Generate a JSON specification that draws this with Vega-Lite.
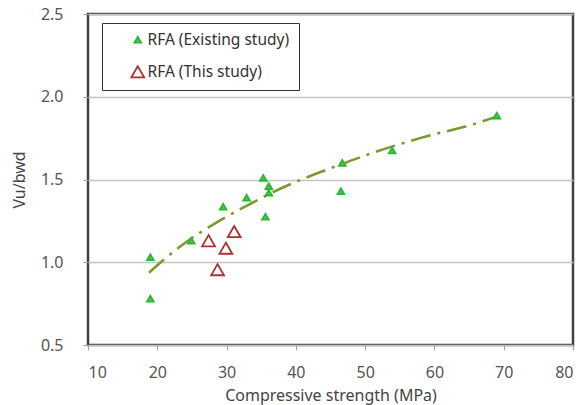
{
  "$schema": "https://vega.github.io/schema/vega-lite/v6.json",
  "width": 485,
  "height": 331,
  "autosize": {"type": "none"},
  "padding": {"left": 88, "top": 14, "right": 9, "bottom": 60},
  "background": "white",
  "datasets": {
    "pts": [
      {"fc": 19.0, "v": 1.03, "series": "RFA (Existing study)"},
      {"fc": 19.0, "v": 0.78, "series": "RFA (Existing study)"},
      {"fc": 24.9, "v": 1.13, "series": "RFA (Existing study)"},
      {"fc": 29.5, "v": 1.335, "series": "RFA (Existing study)"},
      {"fc": 32.9, "v": 1.39, "series": "RFA (Existing study)"},
      {"fc": 35.3, "v": 1.51, "series": "RFA (Existing study)"},
      {"fc": 36.1, "v": 1.46, "series": "RFA (Existing study)"},
      {"fc": 36.1, "v": 1.42, "series": "RFA (Existing study)"},
      {"fc": 35.6, "v": 1.275, "series": "RFA (Existing study)"},
      {"fc": 46.7, "v": 1.60, "series": "RFA (Existing study)"},
      {"fc": 46.5, "v": 1.43, "series": "RFA (Existing study)"},
      {"fc": 53.9, "v": 1.675, "series": "RFA (Existing study)"},
      {"fc": 69.0, "v": 1.885, "series": "RFA (Existing study)"},
      {"fc": 27.4, "v": 1.13, "series": "RFA (This study)"},
      {"fc": 31.1, "v": 1.185, "series": "RFA (This study)"},
      {"fc": 29.9, "v": 1.085, "series": "RFA (This study)"},
      {"fc": 28.7, "v": 0.955, "series": "RFA (This study)"}
    ],
    "fit": [
      {"fc": 18.8, "v": 0.937},
      {"fc": 23.3, "v": 1.095},
      {"fc": 30.0, "v": 1.275},
      {"fc": 33.4, "v": 1.352},
      {"fc": 36.3, "v": 1.415},
      {"fc": 40.6, "v": 1.496},
      {"fc": 45.4, "v": 1.574},
      {"fc": 50.0, "v": 1.645},
      {"fc": 57.9, "v": 1.750},
      {"fc": 65.6, "v": 1.834},
      {"fc": 69.0, "v": 1.880}
    ]
  },
  "config": {
    "font": "Noto Sans",
    "view": {"stroke": "#404040", "strokeWidth": 2.5},
    "axis": {
      "labelFont": "Noto Sans",
      "titleFont": "Noto Sans",
      "labelFontSize": 16,
      "titleFontSize": 16,
      "labelColor": "#555555",
      "titleColor": "#444444",
      "titleFontWeight": "normal",
      "domain": false,
      "tickColor": "#a0a0a0",
      "tickSize": 5
    }
  },
  "layer": [
    {
      "data": {"name": "fit"},
      "mark": {"type": "line", "color": "#7b9a2e", "strokeWidth": 2.6, "strokeDash": [20, 7, 3, 7], "interpolate": "monotone"},
      "encoding": {
        "x": {"field": "fc", "type": "quantitative"},
        "y": {"field": "v", "type": "quantitative"}
      }
    },
    {
      "data": {"name": "pts"},
      "mark": {"type": "point", "shape": "triangle-up", "strokeWidth": 1.8, "opacity": 1},
      "encoding": {
        "x": {
          "field": "fc", "type": "quantitative",
          "scale": {"domain": [10, 80], "nice": false},
          "axis": {"values": [10, 20, 30, 40, 50, 60, 70, 80], "grid": false, "labelPadding": 14, "titlePadding": 7, "title": "Compressive strength (MPa)"}
        },
        "y": {
          "field": "v", "type": "quantitative",
          "scale": {"domain": [0.5, 2.5], "nice": false, "zero": false},
          "axis": {"values": [0.5, 1.0, 1.5, 2.0, 2.5], "format": ".1f", "grid": true, "gridColor": "#c4c4c4", "gridWidth": 1.6, "labelPadding": 20, "titlePadding": 13, "title": "Vu/bwd"}
        },
        "fill": {
          "field": "series", "type": "nominal",
          "scale": {"domain": ["RFA (Existing study)", "RFA (This study)"], "range": ["#3fcf45", "transparent"]},
          "legend": {
            "orient": "none", "legendX": 14, "legendY": 9, "title": null,
            "strokeColor": "#333333", "fillColor": "white", "padding": 9,
            "rowPadding": 13, "symbolOffset": 19, "labelOffset": 2,
            "labelFontSize": 15.5, "labelColor": "#333333", "labelFont": "Noto Sans",
            "symbolType": "triangle-up", "symbolStrokeWidth": 1.8
          }
        },
        "stroke": {
          "field": "series", "type": "nominal",
          "scale": {"domain": ["RFA (Existing study)", "RFA (This study)"], "range": ["#2fb536", "#a83232"]}
        },
        "size": {
          "field": "series", "type": "nominal",
          "scale": {"domain": ["RFA (Existing study)", "RFA (This study)"], "range": [45, 165]}
        }
      }
    }
  ]
}
